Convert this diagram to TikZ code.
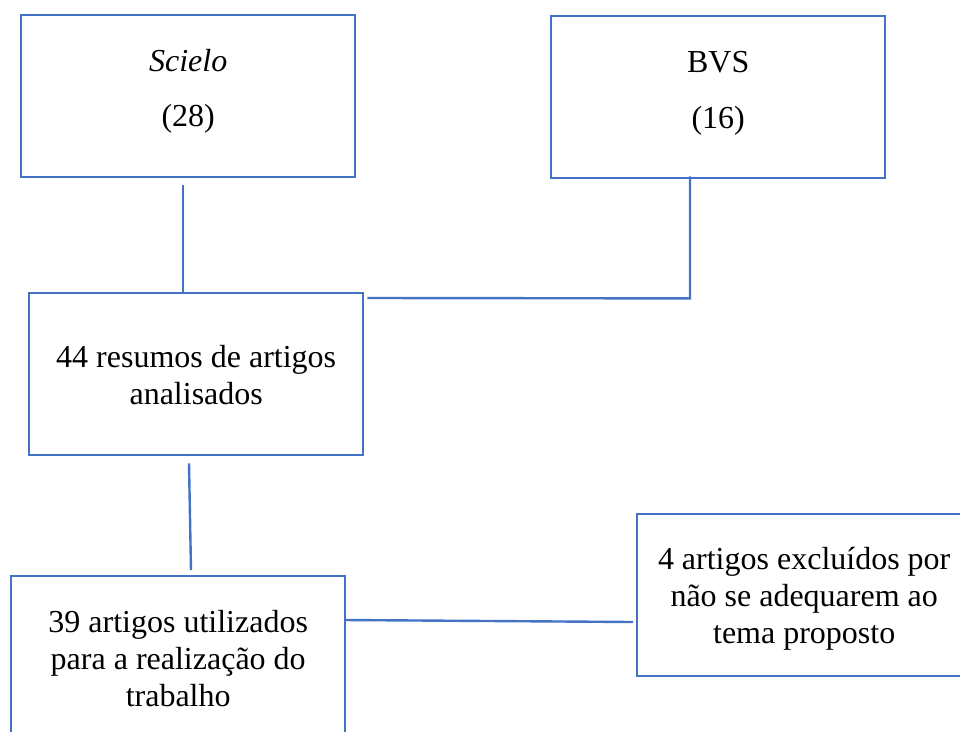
\documentclass[tikz,border=0pt]{standalone}
\usepackage{fontspec}
\setmainfont{Liberation Serif}
\usetikzlibrary{calc}
\definecolor{boxblue}{RGB}{68,114,196}
\tikzset{
  flowbox/.style={draw=boxblue, line width=2.4pt, inner sep=0pt, anchor=north west, rectangle},
  link/.style={draw=boxblue, line width=2.4pt}
}
\newcommand{\boxtext}[3]{\parbox[c][162pt][t]{334pt}{\centering\fontsize{32}{37}\selectfont\rule{0pt}{#1}#3}}
\begin{document}
\begin{tikzpicture}[x=1pt,y=1pt]
\useasboundingbox (0,0) rectangle (960,-731);
\clip (0,0) rectangle (960,-731);
\node[flowbox] (scielo) at (20,-14) {\boxtext{56pt}{}{\textit{Scielo}\\[18pt](28)}};
\node[flowbox] (bvs) at (550,-15) {\boxtext{56pt}{}{BVS\\[19pt](16)}};
\node[flowbox] (res) at (28,-292) {\boxtext{74pt}{}{44 resumos de artigos\\analisados}};
\node[flowbox] (uso) at (10,-575) {\boxtext{56pt}{}{39 artigos utilizados\\para a realização do\\trabalho}};
\node[flowbox] (exc) at (636,-513) {\boxtext{55pt}{}{4 artigos excluídos por\\não se adequarem ao\\tema proposto}};
% connectors
\draw[link] ($(scielo.south west)+(163,-7)$) -- ($(res.north west)+(155,0)$);
\draw[link] ($(res.north east)+(3,-6)$) -- ($(bvs.south west)+(140,-119)$) -- ($(bvs.south west)+(140,3)$);
\draw[link] ($(res.south west)+(161,-7)$) -- ($(uso.north west)+(181,5)$);
\draw[link] ($(uso.north east)+(-2,-45)$) -- ($(exc.north west)+(-3,-109)$);
\end{tikzpicture}
\end{document}
